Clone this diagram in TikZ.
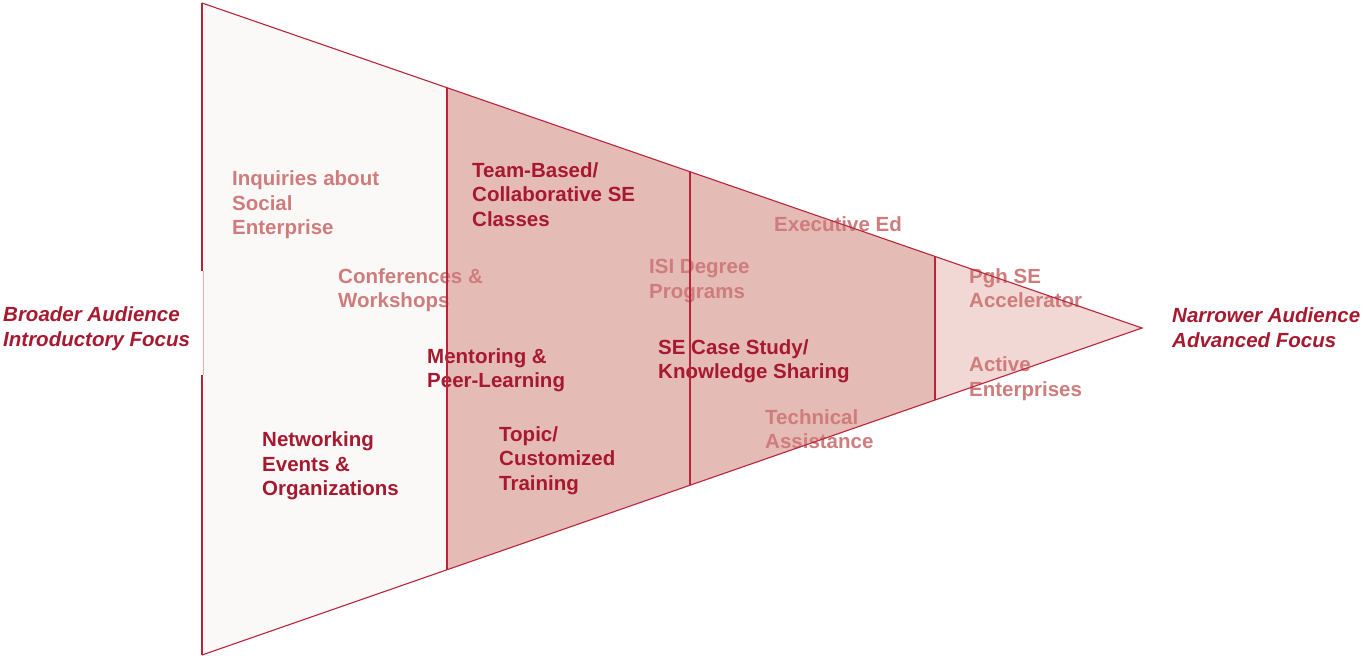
\documentclass[tikz,border=0pt]{standalone}
\usepackage{fontspec}
\setmainfont{Liberation Sans}
\usetikzlibrary{calc}
\definecolor{edge}{HTML}{B8243A}
\definecolor{edgefaint}{HTML}{E4AFB3}
\definecolor{darktext}{HTML}{A6192F}
\definecolor{lighttext}{HTML}{CF7C7C}
\definecolor{zoneA}{HTML}{FBF9F8}
\definecolor{zoneB}{HTML}{E5BBB6}
\definecolor{zoneC}{HTML}{F1D8D4}
\begin{document}
\begin{tikzpicture}[x=1pt,y=-1pt,
  lbl/.style={anchor=north west, inner sep=0pt, align=left,
    font=\bfseries\fontsize{20.5}{24.6}\selectfont,
    execute at begin node={\rule{0pt}{16pt}}},
  strong/.style={lbl, text=darktext},
  soft/.style={lbl, text=lighttext},
  side/.style={lbl, text=darktext, font=\bfseries\itshape\fontsize{20.5}{25}\selectfont},
  outline/.style={draw=edge, line width=1.1pt, line join=miter}]
\useasboundingbox (0,0) rectangle (1363,656);

% funnel corners
\coordinate (A) at (202,3);
\coordinate (B) at (202,655);
\coordinate (P) at (1142,328);
% divider ends on the upper and lower edges
\coordinate (t1) at ($(A)!0.2606!(P)$);
\coordinate (b1) at ($(B)!0.2606!(P)$);
\coordinate (t2) at ($(A)!0.5191!(P)$);
\coordinate (b2) at ($(B)!0.5191!(P)$);
\coordinate (t3) at ($(A)!0.7798!(P)$);
\coordinate (b3) at ($(B)!0.7798!(P)$);

% zone fills
\fill[zoneA] (A) -- (t1) -- (b1) -- (B) -- cycle;
\fill[zoneB] (t1) -- (t2) -- (b2) -- (b1) -- cycle;
\fill[zoneB] (t2) -- (t3) -- (b3) -- (b2) -- cycle;
\fill[zoneC] (t3) -- (P) -- (b3) -- cycle;

% labels inside the funnel
\node[soft]   (inq)  at (232,170.5) {Inquiries about\\Social\\Enterprise};
\node[soft]   (conf) at (338,268)   {Conferences \&\\Workshops};
\node[strong] (team) at (472,162)   {Team-Based/\\Collaborative SE\\Classes};
\node[soft]   (isi)  at (649,259)   {ISI Degree\\Programs};
\node[soft]   (exec) at (774,215.5) {Executive Ed};
\node[soft]   (pgh)  at (969,268)   {Pgh SE\\Accelerator};
\node[soft]   (act)  at (969,356.5) {Active\\Enterprises};
\node[strong] (case) at (658,339)   {SE Case Study/\\Knowledge Sharing};
\node[soft]   (tech) at (765,409)   {Technical\\Assistance};
\node[strong] (ment) at (427,348)   {Mentoring \&\\Peer-Learning};
\node[strong] (netw) at (262,431.5) {Networking\\Events \&\\Organizations};
\node[strong] (topic) at (499,426)  {Topic/\\Customized\\Training};

% side labels
\node[side] (broad)  at (3,306)    {Broader Audience\\Introductory Focus};
\node[side] (narrow) at (1172,307) {Narrower Audience\\Advanced Focus};

% outlines
\draw[outline] (A) -- (P) -- (B);
\draw[outline] (t1) -- (b1);
\draw[outline] (t2) -- (b2);
\draw[outline] (t3) -- (b3);
\draw[outline] (A) -- (202,271);
\draw[outline] (202,375) -- (B);
\draw[draw=edgefaint, line width=1pt] (203,271) -- (203,375);
\end{tikzpicture}
\end{document}
